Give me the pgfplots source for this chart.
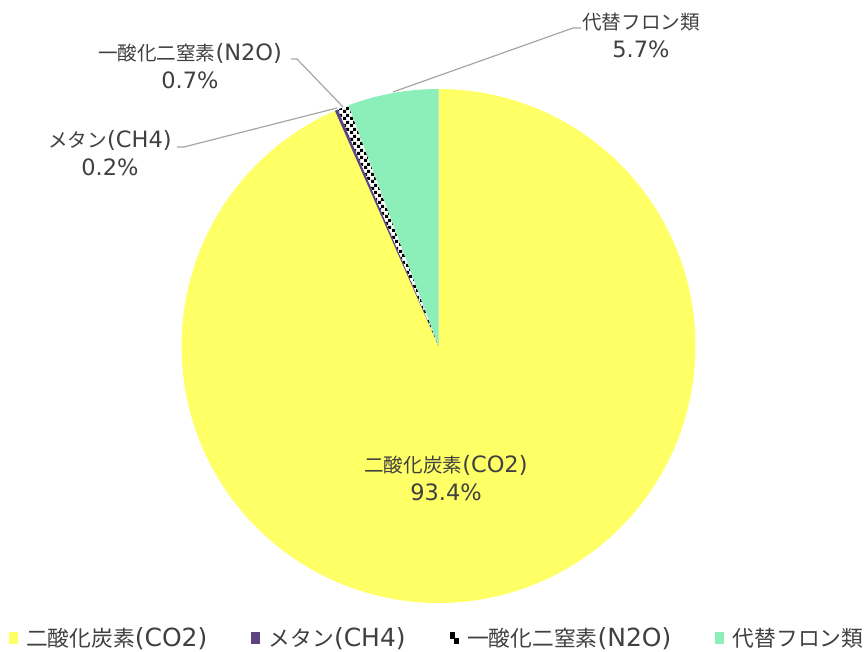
\documentclass[border=0pt]{standalone}
\usepackage{pgfplots}
\usepackage{pgfplotstable}
\pgfplotsset{compat=1.18}
\usepackage{fontspec}
\setmainfont{DejaVu Sans}
\newfontfamily\jp{Noto Sans CJK JP}[Scale=0.87]
\usetikzlibrary{patterns}
\definecolor{co2}{HTML}{FFFF66}
\definecolor{ch4}{HTML}{5B4480}
\definecolor{hfc}{HTML}{8CEEB8}
\definecolor{txt}{HTML}{404040}
\definecolor{lead}{HTML}{A6A6A6}
\pgfdeclarepatternformonly{mycheck}{\pgfpointorigin}{\pgfqpoint{7pt}{7pt}}{\pgfqpoint{7pt}{7pt}}{%
  \pgfpathrectangle{\pgfpointorigin}{\pgfqpoint{3.5pt}{3.5pt}}%
  \pgfpathrectangle{\pgfqpoint{3.5pt}{3.5pt}}{\pgfqpoint{3.5pt}{3.5pt}}%
  \pgfusepath{fill}}

\pgfplotstableread{
gas value
CO2 93.4
CH4 0.2
N2O 0.7
HFC 5.7
}\piedata

\begin{document}
\begin{tikzpicture}
\useasboundingbox (0,0) rectangle (864pt,652pt);
\pgfplotstablegetelem{0}{value}\of\piedata \let\vA\pgfplotsretval
\pgfplotstablegetelem{1}{value}\of\piedata \let\vB\pgfplotsretval
\pgfplotstablegetelem{2}{value}\of\piedata \let\vC\pgfplotsretval
\pgfplotstablegetelem{3}{value}\of\piedata \let\vD\pgfplotsretval
\pgfmathsetmacro\aO{90}
\pgfmathsetmacro\aA{\aO-3.6*\vA}
\pgfmathsetmacro\aB{\aA-3.6*\vB}
\pgfmathsetmacro\aC{\aB-3.6*\vC}
\pgfmathsetmacro\aD{\aC-3.6*\vD}
\def\cx{438.5}\def\cy{306}\def\R{257}
\begin{axis}[
  at={(0,0)}, anchor=south west,
  scale only axis, width=864pt, height=652pt,
  xmin=0, xmax=864, ymin=0, ymax=652,
  hide axis, clip=false,
  legend style={at={(axis cs:437,14)}, anchor=center, draw=none, fill=none,
    font=\fontsize{25}{30}\selectfont\color{txt}, inner sep=0pt,
    /tikz/every odd column/.append style={column sep=7pt},
    /tikz/every even column/.append style={column sep=42pt}},
  legend columns=4,
]
\addplot[fill=co2, draw=none, domain=\aA:\aO, samples=300, variable=\t, forget plot]
  ({\cx+\R*cos(\t)},{\cy+\R*sin(\t)}) -- (axis cs:\cx,\cy) -- cycle;
\addplot[fill=ch4, draw=none, domain=\aB:\aA, samples=5, variable=\t, forget plot]
  ({\cx+\R*cos(\t)},{\cy+\R*sin(\t)}) -- (axis cs:\cx,\cy) -- cycle;
\addplot[fill=white, draw=none, domain=\aC:\aB, samples=10, variable=\t, forget plot]
  ({\cx+\R*cos(\t)},{\cy+\R*sin(\t)}) -- (axis cs:\cx,\cy) -- cycle;
\addplot[pattern=mycheck, pattern color=black, draw=none, domain=\aC:\aB, samples=10, variable=\t, forget plot]
  ({\cx+\R*cos(\t)},{\cy+\R*sin(\t)}) -- (axis cs:\cx,\cy) -- cycle;
\addplot[fill=hfc, draw=none, domain=\aD:\aC, samples=60, variable=\t, forget plot]
  ({\cx+\R*cos(\t)},{\cy+\R*sin(\t)}) -- (axis cs:\cx,\cy) -- cycle;

% leader lines
\draw[lead, line width=1.2pt] (axis cs:177,505) -- (axis cs:184,505) -- (axis cs:337,544);
\draw[lead, line width=1.2pt] (axis cs:291,593) -- (axis cs:297,593) -- (axis cs:343,545);
\draw[lead, line width=1.2pt] (axis cs:581,624) -- (axis cs:573,624) -- (axis cs:393,560);

% labels
\tikzset{lbl/.style={align=center, text=txt, font=\fontsize{22.5}{28}\selectfont, inner sep=0pt}}
\node[lbl] at (axis cs:446,174) {{\jp 二酸化炭素}(CO2)\\93.4\%};
\node[lbl] at (axis cs:110,499) {{\jp メタン}(CH4)\\0.2\%};
\node[lbl] at (axis cs:190,586) {{\jp 一酸化二窒素}(N2O)\\0.7\%};
\node[lbl] at (axis cs:641,617) {{\jp 代替フロン類}\\5.7\%};

\addlegendimage{legend image code/.code={\fill[co2] (0pt,-5.5pt) rectangle (8pt,5.5pt);}}
\addlegendentry{{\jp 二酸化炭素}(CO2)}
\addlegendimage{legend image code/.code={\fill[ch4] (0pt,-5.5pt) rectangle (8pt,5.5pt);}}
\addlegendentry{{\jp メタン}(CH4)}
\addlegendimage{legend image code/.code={\fill[white] (0pt,-5.5pt) rectangle (8pt,5.5pt);
  \fill[black] (0pt,0pt) rectangle (4pt,5.5pt); \fill[black] (4pt,-5.5pt) rectangle (8pt,0pt);}}
\addlegendentry{{\jp 一酸化二窒素}(N2O)}
\addlegendimage{legend image code/.code={\fill[hfc] (0pt,-5.5pt) rectangle (8pt,5.5pt);}}
\addlegendentry{{\jp 代替フロン類}}
\end{axis}
\end{tikzpicture}
\end{document}
